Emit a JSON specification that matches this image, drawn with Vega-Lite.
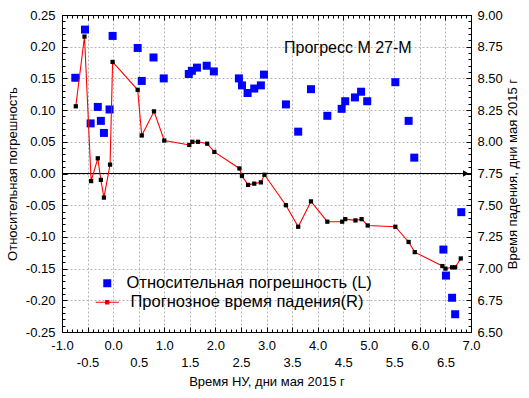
{
  "$schema": "https://vega.github.io/schema/vega-lite/v6.json",
  "width": 409,
  "height": 317,
  "autosize": "none",
  "padding": {"left": 62, "top": 15, "right": 58, "bottom": 66},
  "background": "white",
  "title": {"text": "Прогресс М 27-М", "anchor": "start", "frame": "group", "orient": "top", "offset": -47, "dx": 222, "fontSize": 16, "font": "Liberation Sans", "fontWeight": "normal", "color": "#000", "baseline": "top"},
  "config": {
    "font": "Liberation Sans",
    "view": {"stroke": "black", "strokeWidth": 1},
    "axis": {"labelFont": "Liberation Sans", "titleFont": "Liberation Sans", "labelFontSize": 13, "titleFontSize": 13, "labelColor": "#000", "titleColor": "#000", "titleFontWeight": "normal", "domainColor": "#000", "tickColor": "#000", "gridColor": "#b4b4b4", "gridDash": [2, 2], "labelOverlap": false, "labelFlush": false, "labelBound": false},
    "legend": {"labelFont": "Liberation Sans", "labelFontSize": 16.5, "labelColor": "#000", "labelLimit": 400}
  },
  "datasets": {
    "err": [
      {"t": -0.74, "v": 0.151}, {"t": -0.55, "v": 0.227}, {"t": -0.44, "v": 0.079}, {"t": -0.30, "v": 0.105},
      {"t": -0.24, "v": 0.083}, {"t": -0.18, "v": 0.064}, {"t": -0.07, "v": 0.101}, {"t": -0.01, "v": 0.217},
      {"t": 0.48, "v": 0.198}, {"t": 0.56, "v": 0.146}, {"t": 0.79, "v": 0.183}, {"t": 0.99, "v": 0.150},
      {"t": 1.48, "v": 0.157}, {"t": 1.54, "v": 0.162}, {"t": 1.64, "v": 0.167}, {"t": 1.83, "v": 0.170},
      {"t": 1.97, "v": 0.161}, {"t": 2.46, "v": 0.150}, {"t": 2.52, "v": 0.139}, {"t": 2.63, "v": 0.127},
      {"t": 2.76, "v": 0.134}, {"t": 2.89, "v": 0.139}, {"t": 2.95, "v": 0.156}, {"t": 3.38, "v": 0.109},
      {"t": 3.62, "v": 0.066}, {"t": 3.87, "v": 0.133}, {"t": 4.19, "v": 0.091}, {"t": 4.47, "v": 0.102},
      {"t": 4.54, "v": 0.114}, {"t": 4.73, "v": 0.120}, {"t": 4.85, "v": 0.129}, {"t": 4.97, "v": 0.114},
      {"t": 5.52, "v": 0.144}, {"t": 5.78, "v": 0.083}, {"t": 5.89, "v": 0.025}, {"t": 6.46, "v": -0.120},
      {"t": 6.51, "v": -0.161}, {"t": 6.63, "v": -0.196}, {"t": 6.69, "v": -0.222}, {"t": 6.81, "v": -0.061}
    ],
    "fall": [
      {"t": -0.73, "r": 8.28}, {"t": -0.56, "r": 8.83}, {"t": -0.43, "r": 7.69}, {"t": -0.30, "r": 7.87},
      {"t": -0.24, "r": 7.70}, {"t": -0.18, "r": 7.56}, {"t": -0.06, "r": 7.82}, {"t": -0.01, "r": 8.63},
      {"t": 0.48, "r": 8.41}, {"t": 0.56, "r": 8.05}, {"t": 0.80, "r": 8.24}, {"t": 1.00, "r": 8.01},
      {"t": 1.49, "r": 7.975}, {"t": 1.55, "r": 8.00}, {"t": 1.66, "r": 8.00}, {"t": 1.84, "r": 7.985},
      {"t": 1.98, "r": 7.92}, {"t": 2.47, "r": 7.79}, {"t": 2.52, "r": 7.73}, {"t": 2.64, "r": 7.66},
      {"t": 2.76, "r": 7.67}, {"t": 2.89, "r": 7.68}, {"t": 2.96, "r": 7.74}, {"t": 3.38, "r": 7.50},
      {"t": 3.62, "r": 7.33}, {"t": 3.87, "r": 7.53}, {"t": 4.19, "r": 7.37}, {"t": 4.48, "r": 7.37},
      {"t": 4.54, "r": 7.39}, {"t": 4.74, "r": 7.38}, {"t": 4.86, "r": 7.39}, {"t": 4.98, "r": 7.34},
      {"t": 5.52, "r": 7.33}, {"t": 5.78, "r": 7.21}, {"t": 5.90, "r": 7.13}, {"t": 6.44, "r": 7.02},
      {"t": 6.50, "r": 7.00}, {"t": 6.63, "r": 7.01}, {"t": 6.69, "r": 7.01}, {"t": 6.80, "r": 7.08}
    ],
    "zero": [{"t": 6.9, "v": 0}]
  },
  "layer": [
    {
      "layer": [
        {
          "data": {"name": "zero"},
          "mark": {"type": "rule", "color": "#000", "strokeWidth": 1},
          "encoding": {"y": {"field": "v", "type": "quantitative"}}
        },
        {
          "data": {"name": "zero"},
          "mark": {"type": "point", "shape": "triangle-right", "filled": true, "color": "#000", "size": 45, "opacity": 1},
          "encoding": {"x": {"field": "t", "type": "quantitative"}, "y": {"field": "v", "type": "quantitative"}}
        },
        {
          "data": {"name": "err"},
          "mark": {"type": "point", "filled": true, "size": 64, "opacity": 1, "color": "#0000ff"},
          "encoding": {
            "x": {
              "field": "t", "type": "quantitative",
              "scale": {"domain": [-1, 7], "nice": false, "zero": false},
              "axis": {
                "orient": "bottom",
                "title": "Время НУ, дни мая 2015 г",
                "titlePadding": 6,
                "labelOverlap": false,
                "tickCount": 200,
                "values": [-1,-0.9,-0.8,-0.7,-0.6,-0.5,-0.4,-0.3,-0.2,-0.1,0,0.1,0.2,0.3,0.4,0.5,0.6,0.7,0.8,0.9,1,1.1,1.2,1.3,1.4,1.5,1.6,1.7,1.8,1.9,2,2.1,2.2,2.3,2.4,2.5,2.6,2.7,2.8,2.9,3,3.1,3.2,3.3,3.4,3.5,3.6,3.7,3.8,3.9,4,4.1,4.2,4.3,4.4,4.5,4.6,4.7,4.8,4.9,5,5.1,5.2,5.3,5.4,5.5,5.6,5.7,5.8,5.9,6,6.1,6.2,6.3,6.4,6.5,6.6,6.7,6.8,6.9,7],
                "labelExpr": "abs(round(datum.value*10)) % 5 == 0 ? replace(format(datum.value, '.1f'), '−', '-') : ''",
                "labelPadding": {"condition": {"test": "abs(round(datum.value*10)) % 10 == 5", "value": 29}, "value": 12},
                "tickSize": {"condition": {"test": "abs(round(datum.value*10)) % 5 == 0", "value": -5}, "value": -3},
                "grid": true,
                "gridOpacity": {"condition": {"test": "abs(round(datum.value*10)) % 5 == 0", "value": 1}, "value": 0}
              }
            },
            "y": {
              "field": "v", "type": "quantitative",
              "scale": {"domain": [-0.25, 0.25], "nice": false, "zero": false},
              "axis": {
                "orient": "left",
                "title": "Относительная погрешность",
                "titlePadding": 6,
                "labelOverlap": false,
                "tickCount": 200,
                "values": [-0.25,-0.24,-0.23,-0.22,-0.21,-0.2,-0.19,-0.18,-0.17,-0.16,-0.15,-0.14,-0.13,-0.12,-0.11,-0.1,-0.09,-0.08,-0.07,-0.06,-0.05,-0.04,-0.03,-0.02,-0.01,0,0.01,0.02,0.03,0.04,0.05,0.06,0.07,0.08,0.09,0.1,0.11,0.12,0.13,0.14,0.15,0.16,0.17,0.18,0.19,0.2,0.21,0.22,0.23,0.24,0.25],
                "labelExpr": "abs(round(datum.value*100)) % 5 == 0 ? replace(format(datum.value, '.2f'), '−', '-') : ''",
                "labelPadding": 12,
                "tickSize": {"condition": {"test": "abs(round(datum.value*100)) % 5 == 0", "value": -5}, "value": -3},
                "grid": true,
                "gridOpacity": {"condition": {"test": "abs(round(datum.value*100)) % 5 == 0", "value": 1}, "value": 0}
              }
            },
            "shape": {
              "datum": "Относительная погрешность (L)", "type": "nominal",
              "scale": {"domain": ["Относительная погрешность (L)"], "range": ["square"]},
              "legend": {
                "title": null,
                "orient": "none",
                "legendX": 37,
                "legendY": 260,
                "padding": 0,
                "symbolSize": 64,
                "labelOffset": 11,
                "symbolFillColor": "#0000ff",
                "symbolStrokeColor": "#0000ff",
                "symbolStrokeWidth": 0
              }
            }
          }
        }
      ]
    },
    {
      "data": {"name": "fall"},
      "encoding": {
        "x": {
          "field": "t", "type": "quantitative",
          "scale": {"domain": [-1, 7], "nice": false, "zero": false},
          "axis": {
            "orient": "top",
            "title": null,
            "labels": false,
            "grid": false,
            "tickCount": 200,
            "values": [-1,-0.9,-0.8,-0.7,-0.6,-0.5,-0.4,-0.3,-0.2,-0.1,0,0.1,0.2,0.3,0.4,0.5,0.6,0.7,0.8,0.9,1,1.1,1.2,1.3,1.4,1.5,1.6,1.7,1.8,1.9,2,2.1,2.2,2.3,2.4,2.5,2.6,2.7,2.8,2.9,3,3.1,3.2,3.3,3.4,3.5,3.6,3.7,3.8,3.9,4,4.1,4.2,4.3,4.4,4.5,4.6,4.7,4.8,4.9,5,5.1,5.2,5.3,5.4,5.5,5.6,5.7,5.8,5.9,6,6.1,6.2,6.3,6.4,6.5,6.6,6.7,6.8,6.9,7],
            "tickSize": {"condition": {"test": "abs(round(datum.value*10)) % 5 == 0", "value": -5}, "value": -3}
          }
        },
        "y": {
          "field": "r", "type": "quantitative",
          "scale": {"domain": [6.5, 9], "nice": false, "zero": false},
          "axis": {
            "orient": "right",
            "title": "Время падения, дни мая 2015 г",
            "titleAngle": -90,
            "titleBaseline": "top",
            "titlePadding": 4,
            "grid": false,
            "labelOverlap": false,
            "tickCount": 200,
            "values": [6.5,6.55,6.6,6.65,6.7,6.75,6.8,6.85,6.9,6.95,7,7.05,7.1,7.15,7.2,7.25,7.3,7.35,7.4,7.45,7.5,7.55,7.6,7.65,7.7,7.75,7.8,7.85,7.9,7.95,8,8.05,8.1,8.15,8.2,8.25,8.3,8.35,8.4,8.45,8.5,8.55,8.6,8.65,8.7,8.75,8.8,8.85,8.9,8.95,9],
            "labelExpr": "abs(round(datum.value*100)) % 25 == 0 ? format(datum.value, '.2f') : ''",
            "labelPadding": 11,
            "tickSize": {"condition": {"test": "abs(round(datum.value*100)) % 25 == 0", "value": -5}, "value": -3}
          }
        }
      },
      "layer": [
        {
          "mark": {"type": "line", "strokeWidth": 1.1},
          "encoding": {
            "color": {
              "datum": "Прогнозное время падения(R)", "type": "nominal",
              "scale": {"domain": ["Прогнозное время падения(R)"], "range": ["#ff0000"]},
              "legend": {
                "title": null,
                "orient": "none",
                "legendX": 37,
                "legendY": 279,
                "padding": 0,
                "symbolSize": 64,
                "labelOffset": 15,
                "symbolType": "M-2.9,0L2.9,0M-0.4,-0.4L0.4,-0.4L0.4,0.4L-0.4,0.4Z",
                "symbolFillColor": "#000000",
                "symbolStrokeWidth": 1.2
              }
            }
          }
        },
        {
          "mark": {"type": "point", "shape": "square", "filled": true, "size": 18, "color": "#000", "opacity": 1}
        }
      ]
    }
  ],
  "resolve": {"scale": {"y": "independent"}, "axis": {"x": "independent", "y": "independent"}}
}
